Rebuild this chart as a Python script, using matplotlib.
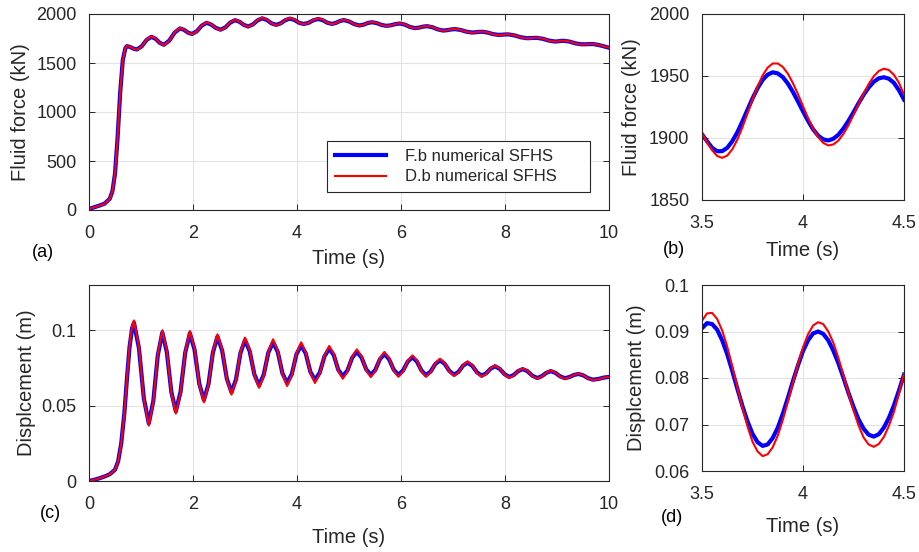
import matplotlib
matplotlib.use("Agg")
import matplotlib.pyplot as plt
from matplotlib.ticker import FuncFormatter

plt.rcParams['font.family'] = ['Liberation Sans', 'DejaVu Sans']

# --- full run, fluid force (kN) ---
force_t = [0.0, 0.1, 0.2, 0.3, 0.4, 0.45, 0.5, 0.55, 0.6, 0.65, 0.7, 0.73,
           0.793, 0.857, 0.92, 1.013, 1.107, 1.20, 1.28, 1.36, 1.44,
           1.543, 1.647, 1.75, 1.827, 1.903, 1.98, 2.073, 2.167, 2.26,
           2.35, 2.44, 2.53, 2.623, 2.717, 2.81, 2.893, 2.977, 3.06,
           3.15, 3.24, 3.33, 3.42, 3.51, 3.60, 3.687, 3.775, 3.862,
           3.951, 4.041, 4.13, 4.222, 4.315, 4.407, 4.495, 4.582, 4.67,
           4.747, 4.823, 4.90, 5.0, 5.1, 5.20, 5.28, 5.36, 5.44,
           5.533, 5.627, 5.72, 5.807, 5.893, 5.98, 6.077, 6.173, 6.27,
           6.347, 6.423, 6.50, 6.603, 6.707, 6.81, 6.887, 6.963, 7.04,
           7.147, 7.253, 7.36, 7.427, 7.493, 7.56, 7.663, 7.767, 7.87,
           7.933, 7.997, 8.06, 8.18, 8.30, 8.42, 8.483, 8.547, 8.61,
           8.727, 8.843, 8.96, 9.017, 9.073, 9.13, 9.243, 9.357, 9.47,
           9.547, 9.623, 9.70, 9.8, 9.9, 10.0]
force_fb = [10, 28, 45, 65, 115, 190, 370, 740, 1200, 1530, 1652, 1672,
            1663, 1646, 1638, 1670, 1735, 1767, 1747, 1706, 1686,
            1728, 1810, 1853, 1839, 1810, 1796, 1824, 1881, 1910,
            1892, 1858, 1840, 1863, 1913, 1937, 1921, 1889, 1872,
            1893, 1934, 1956, 1939, 1905, 1889, 1905, 1937, 1953,
            1939, 1910, 1898, 1910, 1936, 1949, 1937, 1911, 1899,
            1909, 1928, 1938, 1924, 1897, 1883, 1891, 1908, 1916,
            1907, 1888, 1879, 1885, 1897, 1903, 1891, 1867, 1856,
            1861, 1871, 1876, 1865, 1843, 1831, 1835, 1842, 1846,
            1837, 1820, 1811, 1813, 1817, 1819, 1811, 1795, 1787,
            1788, 1791, 1792, 1782, 1763, 1753, 1754, 1756, 1757,
            1747, 1729, 1719, 1721, 1725, 1727, 1718, 1700, 1691,
            1691, 1693, 1693, 1684, 1670, 1656]
force_db = [10, 28, 45, 65, 115, 190, 370, 740, 1200, 1530, 1655, 1675,
            1665, 1645, 1635, 1669, 1738, 1772, 1750, 1705, 1682,
            1726, 1814, 1858, 1842, 1808, 1792, 1823, 1884, 1915,
            1895, 1856, 1836, 1862, 1916, 1942, 1924, 1887, 1868,
            1892, 1938, 1962, 1942, 1904, 1884, 1903, 1941, 1960,
            1944, 1910, 1894, 1910, 1940, 1956, 1941, 1911, 1896,
            1908, 1930, 1942, 1926, 1896, 1880, 1890, 1910, 1920,
            1909, 1887, 1876, 1884, 1898, 1906, 1893, 1866, 1853,
            1860, 1872, 1879, 1866, 1842, 1829, 1834, 1843, 1848,
            1838, 1819, 1809, 1812, 1818, 1821, 1812, 1794, 1785,
            1787, 1792, 1794, 1783, 1762, 1751, 1753, 1757, 1759,
            1748, 1728, 1717, 1720, 1726, 1729, 1719, 1699, 1689,
            1690, 1694, 1695, 1685, 1670, 1657]

# --- full run, displacement (m) ---
disp_t = [0.0, 0.1, 0.2, 0.3, 0.4, 0.5, 0.56, 0.62, 0.68, 0.73, 0.78, 0.83, 0.865,
          0.96, 1.055, 1.15, 1.237, 1.323, 1.41, 1.497, 1.583, 1.67,
          1.76, 1.85, 1.94, 2.03, 2.12, 2.21, 2.297, 2.383, 2.47,
          2.56, 2.65, 2.74, 2.827, 2.913, 3.00, 3.09, 3.18, 3.27,
          3.36, 3.45, 3.54, 3.63, 3.72, 3.81, 3.90, 3.99, 4.08,
          4.168, 4.257, 4.345, 4.437, 4.528, 4.62, 4.707, 4.793, 4.88,
          4.97, 5.06, 5.15, 5.24, 5.33, 5.42, 5.507, 5.593, 5.68,
          5.77, 5.86, 5.95, 6.04, 6.13, 6.22, 6.307, 6.393, 6.48,
          6.57, 6.66, 6.75, 6.84, 6.93, 7.02, 7.107, 7.193, 7.28,
          7.37, 7.46, 7.55, 7.637, 7.723, 7.81, 7.90, 7.99, 8.08,
          8.167, 8.253, 8.34, 8.433, 8.527, 8.62, 8.707, 8.793, 8.88,
          8.97, 9.06, 9.15, 9.237, 9.323, 9.41, 9.503, 9.597, 9.69,
          9.80, 9.90, 10.0]
disp_fb = [0.0, 0.0008, 0.0018, 0.003, 0.0045, 0.0075, 0.013, 0.025, 0.045, 0.068, 0.089, 0.1015, 0.1050,
           0.0882, 0.0547, 0.0382, 0.0531, 0.0834, 0.0985, 0.0855, 0.0591, 0.0462,
           0.0590, 0.0851, 0.0980, 0.0870, 0.0646, 0.0537, 0.0641, 0.0853, 0.0958,
           0.0866, 0.0679, 0.0588, 0.0674, 0.0850, 0.0935, 0.0861, 0.0707, 0.0634,
           0.0705, 0.0853, 0.0920, 0.0856, 0.0714, 0.0650, 0.0709, 0.0841, 0.0900,
           0.0846, 0.0724, 0.0670, 0.0718, 0.0827, 0.0878, 0.0835, 0.0738, 0.0695,
           0.0733, 0.0817, 0.0857, 0.0820, 0.0741, 0.0704, 0.0737, 0.0807, 0.0842,
           0.0808, 0.0738, 0.0704, 0.0733, 0.0792, 0.0821, 0.0792, 0.0733, 0.0702,
           0.0726, 0.0776, 0.0801, 0.0777, 0.0730, 0.0705, 0.0724, 0.0765, 0.0785,
           0.0764, 0.0721, 0.0699, 0.0714, 0.0745, 0.0761, 0.0743, 0.0709, 0.0690,
           0.0703, 0.0729, 0.0742, 0.0728, 0.0698, 0.0683, 0.0695, 0.0717, 0.0729,
           0.0717, 0.0694, 0.0682, 0.0689, 0.0703, 0.0710, 0.0701, 0.0682, 0.0672,
           0.0677, 0.0686, 0.0690]
disp_db = [0.0, 0.0008, 0.0018, 0.003, 0.0045, 0.0075, 0.013, 0.025, 0.045, 0.068, 0.090, 0.103, 0.1065,
           0.0890, 0.0541, 0.0367, 0.0525, 0.0842, 0.1000, 0.0862, 0.0585, 0.0447,
           0.0584, 0.0858, 0.0995, 0.0877, 0.0640, 0.0522, 0.0635, 0.0860, 0.0973,
           0.0873, 0.0673, 0.0573, 0.0668, 0.0857, 0.0951, 0.0868, 0.0701, 0.0618,
           0.0699, 0.0859, 0.0940, 0.0863, 0.0708, 0.0630, 0.0703, 0.0848, 0.0920,
           0.0853, 0.0718, 0.0650, 0.0712, 0.0834, 0.0896, 0.0842, 0.0732, 0.0678,
           0.0727, 0.0824, 0.0873, 0.0827, 0.0735, 0.0689, 0.0731, 0.0814, 0.0856,
           0.0815, 0.0732, 0.0691, 0.0727, 0.0798, 0.0833, 0.0798, 0.0727, 0.0691,
           0.0721, 0.0781, 0.0811, 0.0782, 0.0725, 0.0696, 0.0720, 0.0769, 0.0793,
           0.0768, 0.0717, 0.0691, 0.0710, 0.0748, 0.0767, 0.0746, 0.0705, 0.0684,
           0.0700, 0.0731, 0.0747, 0.0730, 0.0695, 0.0678, 0.0692, 0.0719, 0.0733,
           0.0719, 0.0692, 0.0678, 0.0687, 0.0704, 0.0713, 0.0702, 0.0680, 0.0669,
           0.0675, 0.0686, 0.0691]

# --- zoomed window 3.5-4.5 s ---
zoom_t = [3.500, 3.525, 3.550, 3.575, 3.600, 3.625, 3.650, 3.675, 3.700, 3.725,
          3.750, 3.775, 3.800, 3.825, 3.850, 3.875, 3.900, 3.925, 3.950, 3.975,
          4.000, 4.025, 4.050, 4.075, 4.100, 4.125, 4.150, 4.175, 4.200, 4.225,
          4.250, 4.275, 4.300, 4.325, 4.350, 4.375, 4.400, 4.425, 4.450, 4.475,
          4.500]
zoom_force_fb = [1903, 1897.4, 1892.1, 1889.3, 1889.4, 1892.1, 1897.4, 1904.6, 1913.4, 1922.7,
                 1931.9, 1940.1, 1946.8, 1951.1, 1953.0, 1952.1, 1949.1, 1943.9, 1937.2, 1929.5,
                 1921.5, 1913.8, 1907.0, 1901.9, 1898.9, 1898.0, 1899.4, 1902.6, 1907.6, 1913.8,
                 1920.7, 1928.0, 1934.8, 1940.7, 1945.3, 1948.1, 1949.0, 1947.8, 1944.5, 1938.5,
                 1931.0]
zoom_force_db = [1904, 1896.5, 1890.1, 1885.5, 1884.0, 1885.8, 1890.9, 1898.7, 1908.6, 1919.7,
                 1931.0, 1941.6, 1950.4, 1956.8, 1960.1, 1960.1, 1957.3, 1951.9, 1944.3, 1935.4,
                 1925.7, 1916.1, 1907.6, 1900.7, 1896.1, 1894.0, 1894.8, 1897.9, 1903.3, 1910.3,
                 1918.6, 1927.3, 1935.9, 1943.5, 1949.7, 1954.0, 1955.9, 1954.8, 1951.0, 1944.5,
                 1935.0]
zoom_disp_fb = [0.0907, 0.0918, 0.0916, 0.0904, 0.0881, 0.0851, 0.0815, 0.0777, 0.0740, 0.0707,
                0.0680, 0.0662, 0.0654, 0.0657, 0.0671, 0.0693, 0.0723, 0.0757, 0.0793, 0.0827,
                0.0858, 0.0881, 0.0896, 0.0900, 0.0895, 0.0881, 0.0859, 0.0832, 0.0801, 0.0768,
                0.0738, 0.0711, 0.0691, 0.0678, 0.0674, 0.0679, 0.0693, 0.0714, 0.0741, 0.0773,
                0.0807]
zoom_disp_db = [0.0923, 0.0939, 0.0940, 0.0927, 0.0902, 0.0867, 0.0825, 0.0780, 0.0736, 0.0696,
                0.0663, 0.0642, 0.0632, 0.0636, 0.0651, 0.0676, 0.0710, 0.0749, 0.0790, 0.0830,
                0.0866, 0.0894, 0.0913, 0.0920, 0.0916, 0.0900, 0.0876, 0.0843, 0.0806, 0.0767,
                0.0730, 0.0698, 0.0672, 0.0657, 0.0652, 0.0658, 0.0673, 0.0697, 0.0727, 0.0766,
                0.0810]

TXT = '#262626'
W, H = 919, 552

fig = plt.figure(figsize=(W / 100, H / 100), dpi=100)


def px_axes(x0, y0, x1, y1):
    # pixel box (left, top, right, bottom) -> figure axes
    return fig.add_axes([x0 / W, 1 - y1 / H, (x1 - x0) / W, (y1 - y0) / H])


def style(ax, xlim, ylim, xticks, yticks):
    ax.set_xlim(*xlim)
    ax.set_ylim(*ylim)
    ax.set_xticks(xticks)
    ax.set_yticks(yticks)
    fmt = FuncFormatter(lambda v, _: f'{v:g}')
    ax.xaxis.set_major_formatter(fmt)
    ax.yaxis.set_major_formatter(fmt)
    ax.grid(True, color='#e3e3e3', lw=0.8)
    ax.set_axisbelow(True)
    ax.tick_params(direction='in', top=True, right=True, length=4, width=0.7,
                   color=TXT, labelcolor=TXT, labelsize=13)
    ax.tick_params(axis='x', pad=11)
    ax.tick_params(axis='y', pad=9)
    for s in ax.spines.values():
        s.set_color(TXT)
        s.set_linewidth(0.8)


ax_a = px_axes(89, 14, 609, 210)
ax_b = px_axes(702, 14, 904, 200)
ax_c = px_axes(89, 285, 609, 481)
ax_d = px_axes(702, 285, 904, 471)

ax_a.plot(force_t, force_fb, color='blue', lw=3.0, label='F.b numerical SFHS')
ax_a.plot(force_t, force_db, color='red', lw=1.5, label='D.b numerical SFHS')
style(ax_a, (0, 10), (0, 2000), range(0, 11, 2), range(0, 2001, 500))

ax_b.plot(zoom_t, zoom_force_fb, color='blue', lw=3.0)
ax_b.plot(zoom_t, zoom_force_db, color='red', lw=1.5)
style(ax_b, (3.5, 4.5), (1850, 2000), [3.5, 4, 4.5], [1850, 1900, 1950, 2000])

ax_c.plot(disp_t, disp_fb, color='blue', lw=3.0)
ax_c.plot(disp_t, disp_db, color='red', lw=1.5)
style(ax_c, (0, 10), (0, 0.13), range(0, 11, 2), [0, 0.05, 0.1])

ax_d.plot(zoom_t, zoom_disp_fb, color='blue', lw=3.0)
ax_d.plot(zoom_t, zoom_disp_db, color='red', lw=1.5)
style(ax_d, (3.5, 4.5), (0.06, 0.1), [3.5, 4, 4.5], [0.06, 0.07, 0.08, 0.09, 0.1])

# axis labels
for ax, ylab, yx, xy in [(ax_a, 'Fluid force (kN)', -0.131, -0.25),
                         (ax_b, 'Fluid force (kN)', -0.347, -0.27),
                         (ax_c, 'Displcement (m)', -0.121, -0.286),
                         (ax_d, 'Displcement (m)', -0.322, -0.30)]:
    ax.set_ylabel(ylab, fontsize=14.5, color=TXT, va='center')
    ax.yaxis.set_label_coords(yx, 0.5)
    ax.set_xlabel('Time (s)', fontsize=14.5, color=TXT, va='center')
    ax.xaxis.set_label_coords(0.5, xy)

# panel letters
for lab, x, y in [('(a)', 43, 253), ('(b)', 674, 249), ('(c)', 50, 514), ('(d)', 672, 518)]:
    fig.text(x / W, 1 - y / H, lab, fontsize=13, color='black', ha='center', va='center')

leg = ax_a.legend(loc='lower left', bbox_to_anchor=(0.458, 0.092, 0.505, 0.265),
                  mode='expand', fontsize=12, handlelength=3.1, handletextpad=1.1,
                  labelspacing=0.35, borderpad=0.45, fancybox=False, framealpha=1,
                  borderaxespad=0)
leg.get_frame().set_edgecolor(TXT)
leg.get_frame().set_linewidth(0.8)
for t in leg.get_texts():
    t.set_color(TXT)

fig.savefig('out.png', dpi=100)
